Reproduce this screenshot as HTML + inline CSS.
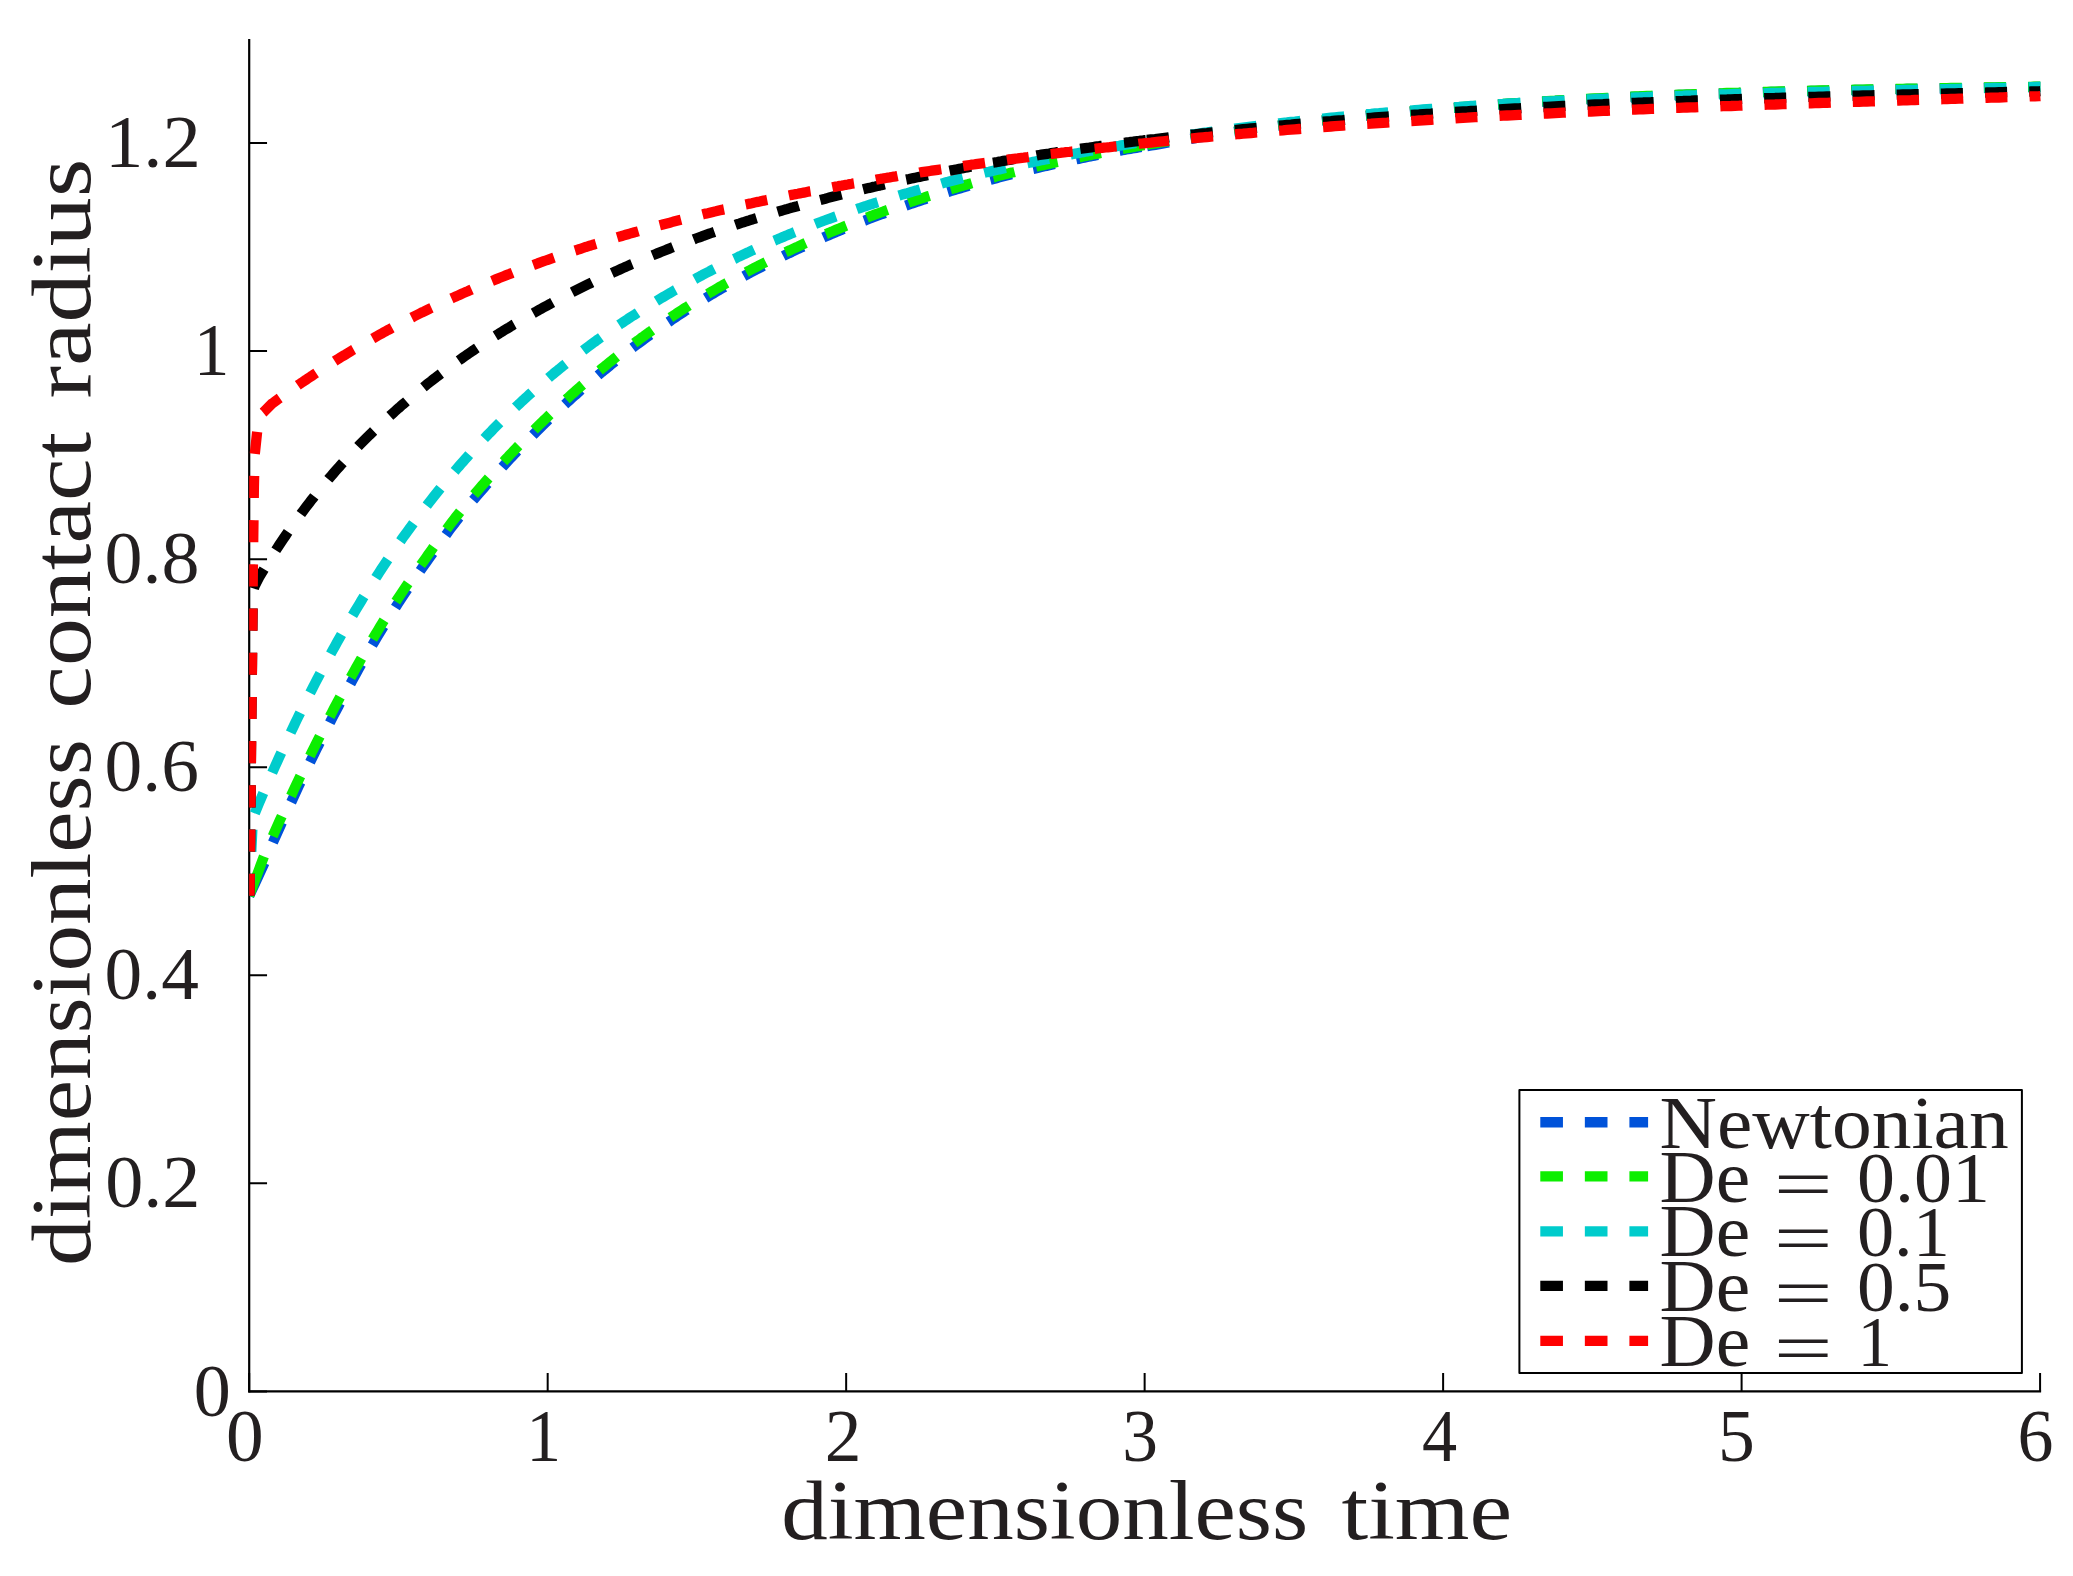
<!DOCTYPE html>
<html lang="en"><head><meta charset="utf-8"><title>dimensionless contact radius vs dimensionless time</title>
<style>
html,body{margin:0;padding:0;background:#fff;}
body{width:2073px;height:1576px;overflow:hidden;}
svg{display:block;}
text{font-family:"Liberation Serif","DejaVu Serif",serif;fill:#231f20;}
.c{fill:none;stroke-width:10.3;stroke-linecap:butt;stroke-linejoin:miter;}
.ax{stroke:#000;stroke-width:2.2;fill:none;stroke-linecap:butt;}
.tk{stroke:#000;stroke-width:2;fill:none;}
</style></head><body>
<svg width="2073" height="1576" viewBox="0 0 2073 1576">
<rect x="0" y="0" width="2073" height="1576" fill="#fff"/>
<defs><clipPath id="plotclip"><rect x="249.2" y="38" width="1792.1" height="1353.5"/></clipPath></defs>
<g id="axes">
<path class="ax" d="M249.20 39 V1392.55"/>
<path class="ax" d="M248.10 1391.45 H2041.10"/>
<path class="tk" d="M249.20 1391.45 V1372.90 M547.68 1391.45 V1372.90 M846.16 1391.45 V1372.90 M1144.64 1391.45 V1372.90 M1443.12 1391.45 V1372.90 M1741.60 1391.45 V1372.90 M2040.08 1391.45 V1372.90 M249.20 1391.45 H267.05 M249.20 1183.37 H267.05 M249.20 975.29 H267.05 M249.20 767.21 H267.05 M249.20 559.13 H267.05 M249.20 351.05 H267.05 M249.20 142.97 H267.05"/>
</g>
<g id="curves" clip-path="url(#plotclip)">
<g id="curve-blue">
<path class="c" stroke="#0052d9" d="M249.2 895.8 L255.4 882.5"/>
<path class="c" stroke="#0052d9" stroke-dasharray="22.10 22.10" stroke-dashoffset="30.06" d="M249.2 895.8 L264.3 863.3 L272.9 842.5 L279.9 826.8 L298.5 786.4 L300.5 782.2 L302.5 778.0 L304.5 773.8 L306.5 769.6 L308.5 765.5 L310.5 761.3 L312.5 757.2 L314.5 753.2 L316.5 749.1 L318.5 745.1 L320.5 741.1 L322.5 737.1 L324.5 733.1 L326.5 729.2 L328.5 725.3 L330.5 721.4 L332.5 717.5 L334.5 713.7 L336.5 709.8 L338.5 706.0 L340.5 702.3 L342.5 698.5 L344.5 694.8 L346.5 691.1 L348.5 687.4 L350.5 683.7 L352.5 680.1 L354.4 676.5 L356.4 672.9 L358.4 669.3 L360.4 665.8 L362.4 662.2 L364.4 658.7 L366.4 655.3 L368.4 651.8 L370.4 648.4 L372.4 645.0 L374.4 641.6 L376.4 638.2 L378.4 634.9 L380.4 631.6 L382.4 628.3 L384.4 625.1 L386.4 621.8 L388.4 618.6 L390.4 615.4 L392.4 612.3 L394.4 609.2 L396.4 606.0 L398.3 603.0 L400.3 599.9 L402.3 596.9 L404.3 593.9 L406.3 590.9 L408.3 588.0 L410.3 585.0 L412.3 582.1 L414.3 579.2 L416.3 576.3 L418.3 573.5 L420.3 570.6 L422.3 567.8 L424.3 565.0 L426.3 562.2 L428.3 559.3 L430.3 556.5 L432.3 553.7 L434.3 550.9 L436.3 548.1 L438.3 545.4 L440.3 542.6 L442.3 539.8 L444.3 537.1 L446.3 534.4 L448.2 531.7 L450.2 529.0 L452.2 526.4 L454.2 523.8 L456.2 521.2 L458.2 518.6 L460.2 516.1 L462.2 513.6 L464.2 511.1 L466.2 508.7 L468.2 506.2 L470.2 503.8 L472.1 501.4 L474.1 499.1 L476.1 496.7 L478.1 494.4 L480.1 492.1 L482.1 489.8 L484.1 487.5 L486.1 485.2 L488.1 482.9 L490.1 480.7 L492.1 478.4 L494.1 476.2 L496.1 474.0 L498.1 471.8 L500.1 469.6 L502.1 467.4 L504.1 465.2 L506.1 463.1 L508.0 460.9 L510.0 458.8 L512.0 456.7 L514.0 454.5 L516.0 452.4 L518.0 450.4 L520.0 448.3 L522.0 446.2 L524.0 444.1 L526.0 442.1 L528.0 440.1 L530.0 438.0 L532.0 436.0 L534.0 434.0 L536.0 432.0 L538.0 430.1 L540.0 428.1 L542.0 426.1 L544.0 424.2 L545.9 422.2 L547.9 420.3 L549.9 418.4 L551.9 416.5 L553.9 414.6 L555.9 412.7 L557.9 410.9 L559.9 409.0 L561.9 407.1 L563.9 405.3 L565.9 403.5 L567.9 401.6 L569.9 399.8 L571.9 398.0 L573.9 396.2 L575.9 394.5 L577.9 392.7 L579.8 390.9 L581.8 389.2 L583.8 387.4 L585.8 385.7 L587.8 384.0 L589.8 382.3 L591.8 380.6 L593.8 378.9 L595.8 377.2 L597.8 375.6 L599.8 373.9 L601.8 372.2 L603.8 370.6 L605.8 369.0 L607.8 367.3 L609.7 365.7 L611.7 364.1 L613.7 362.5 L615.7 360.9 L617.7 359.3 L619.7 357.8 L621.7 356.2 L623.7 354.7 L625.7 353.1 L627.7 351.6 L629.6 350.0 L631.6 348.5 L633.6 347.0 L635.6 345.5 L637.6 344.0 L639.6 342.6 L641.6 341.1 L643.6 339.6 L645.6 338.2 L647.6 336.7 L649.5 335.3 L651.5 333.9 L653.5 332.4 L655.5 331.0 L657.5 329.6 L659.5 328.2 L661.5 326.8 L663.5 325.5 L665.5 324.1 L667.5 322.7 L669.5 321.4 L671.4 320.0 L673.4 318.7 L675.4 317.4 L677.4 316.0 L679.4 314.7 L681.4 313.4 L683.4 312.1 L685.4 310.8 L687.4 309.5 L689.4 308.3 L691.4 307.0 L693.3 305.7 L695.3 304.5 L697.3 303.2 L699.3 302.0 L701.3 300.8 L703.3 299.6 L705.3 298.3 L707.3 297.1 L709.3 295.9 L711.3 294.7 L713.3 293.5 L715.2 292.4 L717.2 291.2 L719.2 290.0 L721.2 288.9 L723.2 287.7 L725.2 286.6 L727.2 285.4 L729.2 284.3 L731.2 283.2 L733.2 282.1 L735.2 280.9 L737.2 279.8 L739.1 278.7 L741.1 277.6 L743.1 276.6 L745.1 275.5 L747.1 274.4 L749.1 273.3 L751.1 272.3 L753.1 271.2 L755.1 270.2 L757.1 269.1 L759.1 268.1 L761.1 267.1 L763.1 266.0 L765.0 265.0 L767.0 264.0 L769.0 263.0 L771.0 262.0 L773.0 261.0 L775.0 260.0 L777.0 259.0 L779.0 258.0 L781.0 257.1 L783.0 256.1 L785.0 255.1 L787.0 254.2 L789.0 253.2 L791.0 252.3 L792.9 251.3 L794.9 250.4 L796.9 249.4 L798.9 248.5 L800.9 247.6 L802.9 246.7 L804.9 245.8 L806.9 244.8 L808.9 243.9 L810.9 243.0 L812.9 242.2 L814.9 241.3 L816.9 240.4 L818.9 239.5 L820.9 238.6 L822.8 237.8 L824.8 236.9 L826.8 236.0 L828.8 235.2 L830.8 234.3 L832.8 233.5 L834.8 232.6 L836.8 231.8 L838.8 231.0 L840.8 230.1 L842.8 229.3 L844.8 228.5 L846.8 227.7 L848.8 226.9 L850.8 226.1 L852.8 225.3 L854.7 224.5 L856.7 223.7 L858.7 222.9 L860.7 222.1 L862.7 221.3 L864.7 220.6 L866.7 219.8 L868.7 219.0 L870.7 218.3 L872.7 217.5 L874.7 216.8 L876.7 216.0 L878.7 215.3 L880.7 214.5 L882.7 213.8 L884.7 213.1 L886.7 212.3 L888.7 211.6 L890.6 210.9 L892.6 210.2 L894.6 209.5 L896.6 208.8 L898.6 208.1 L900.6 207.4 L902.6 206.7 L904.6 206.0 L906.6 205.3 L908.6 204.6 L910.6 203.9 L912.6 203.3 L914.6 202.6 L916.6 201.9 L918.6 201.3 L920.6 200.6 L922.6 199.9 L924.6 199.3 L926.6 198.6 L928.6 198.0 L930.5 197.4 L932.5 196.7 L934.5 196.1 L936.5 195.5 L938.5 194.8 L940.5 194.2 L942.5 193.6 L944.5 193.0 L946.5 192.4 L948.5 191.8 L950.5 191.1 L952.5 190.5 L954.5 190.0 L956.5 189.4 L958.5 188.8 L960.5 188.2 L962.5 187.6 L964.5 187.0 L966.5 186.4 L968.5 185.9 L970.5 185.3 L972.5 184.7 L974.5 184.2 L976.4 183.6 L978.4 183.0 L980.4 182.5 L982.4 181.9 L984.4 181.4 L986.4 180.8 L988.4 180.3 L990.4 179.8 L992.4 179.2 L994.4 178.7 L996.4 178.2 L998.4 177.6 L1000.4 177.1 L1002.4 176.6 L1004.4 176.1 L1006.4 175.6 L1008.4 175.1 L1010.4 174.5 L1012.4 174.0 L1014.4 173.5 L1016.4 173.0 L1018.4 172.5 L1020.4 172.0 L1022.4 171.5 L1024.4 171.1 L1026.4 170.6 L1028.3 170.1 L1030.3 169.6 L1032.3 169.1 L1034.3 168.7 L1036.3 168.2 L1038.3 167.7 L1040.3 167.2 L1042.3 166.8 L1044.3 166.3 L1046.3 165.9 L1048.3 165.4 L1050.3 165.0 L1052.3 164.5 L1054.3 164.0 L1056.3 163.6 L1058.3 163.2 L1060.3 162.7 L1062.3 162.3 L1064.3 161.8 L1066.3 161.4 L1068.3 161.0 L1070.3 160.5 L1072.3 160.1 L1074.3 159.7 L1076.3 159.3 L1078.3 158.9 L1080.3 158.4 L1082.3 158.0 L1084.3 157.6 L1086.3 157.2 L1088.3 156.8 L1090.3 156.4 L1092.3 156.0 L1094.2 155.6 L1096.2 155.2 L1098.2 154.8 L1100.2 154.4 L1102.2 154.0 L1104.2 153.6 L1106.2 153.2 L1108.2 152.8 L1110.2 152.5 L1112.2 152.1 L1114.2 151.7 L1116.2 151.3 L1118.2 150.9 L1120.2 150.6 L1122.2 150.2 L1124.2 149.9 L1126.2 149.5 L1128.2 149.2 L1130.2 148.9 L1132.2 148.5 L1134.2 148.2 L1136.2 147.9 L1138.2 147.5 L1140.2 147.2 L1142.2 146.9 L1144.2 146.5 L1146.2 146.2 L1147.8 145.9"/>
<path class="c" stroke="#0052d9" stroke-dasharray="22.10 22.10" stroke-dashoffset="0.00" d="M1147.0 146.1 L1151.3 145.4 L1155.3 144.8 L1159.3 144.2 L1163.3 143.5 L1167.2 142.8 L1171.2 142.1 L1175.2 141.4 L1179.2 140.8 L1183.2 140.1 L1187.2 139.5 L1191.2 138.8 L1195.2 138.2 L1199.2 137.5 L1203.2 136.9 L1207.2 136.3 L1211.2 135.6 L1215.2 135.0 L1219.1 134.4 L1223.1 133.8 L1227.1 133.2 L1231.1 132.6 L1235.1 132.0 L1239.1 131.4 L1243.1 130.8 L1247.1 130.2 L1251.1 129.7 L1255.1 129.1 L1259.1 128.5 L1263.1 128.0 L1267.1 127.4 L1271.1 126.9 L1275.1 126.3 L1279.1 125.8 L1283.1 125.2 L1287.1 124.7 L1291.0 124.2 L1295.0 123.7 L1299.0 123.2 L1303.0 122.7 L1307.0 122.2 L1311.0 121.7 L1315.0 121.3 L1319.0 120.8 L1323.0 120.4 L1327.0 119.9 L1331.0 119.5 L1335.0 119.0 L1339.0 118.6 L1343.0 118.2 L1347.0 117.7 L1351.0 117.3 L1355.0 116.9 L1359.0 116.5 L1363.0 116.1 L1367.0 115.7 L1371.0 115.3 L1375.0 114.9 L1379.0 114.5 L1383.0 114.1 L1387.0 113.7 L1391.0 113.3 L1395.0 113.0 L1399.0 112.6 L1403.0 112.2 L1407.0 111.9 L1411.0 111.5 L1415.0 111.1 L1419.0 110.8 L1423.0 110.4 L1427.0 110.1 L1431.0 109.8 L1435.0 109.4 L1439.0 109.1 L1443.0 108.8 L1447.0 108.4 L1451.0 108.1 L1455.0 107.8 L1459.0 107.5 L1463.0 107.2 L1467.0 106.9 L1471.0 106.6 L1475.0 106.3 L1479.0 106.0 L1483.0 105.7 L1487.0 105.4 L1491.0 105.1 L1495.0 104.8 L1499.0 104.5 L1503.0 104.3 L1507.0 104.0 L1511.0 103.7 L1515.0 103.4 L1519.0 103.2 L1523.0 102.9 L1527.0 102.7 L1531.0 102.4 L1535.0 102.2 L1539.0 101.9 L1543.0 101.7 L1547.0 101.4 L1551.0 101.2 L1555.0 101.0 L1559.0 100.7 L1563.0 100.5 L1567.0 100.3 L1571.0 100.0 L1575.0 99.8 L1579.0 99.6 L1583.0 99.4 L1587.0 99.2 L1591.0 99.0 L1595.0 98.8 L1599.0 98.6 L1603.0 98.4 L1607.0 98.2 L1611.0 98.0 L1615.0 97.8 L1619.0 97.6 L1623.0 97.4 L1627.0 97.2 L1631.0 97.0 L1635.0 96.8 L1639.0 96.7 L1643.0 96.5 L1647.0 96.3 L1651.0 96.1 L1655.0 96.0 L1659.0 95.8 L1663.0 95.7 L1667.0 95.5 L1671.0 95.3 L1675.0 95.2 L1679.0 95.0 L1683.0 94.9 L1687.0 94.7 L1691.0 94.6 L1695.0 94.4 L1699.0 94.3 L1703.0 94.1 L1707.0 94.0 L1711.0 93.9 L1715.0 93.7 L1719.0 93.6 L1723.0 93.5 L1727.0 93.3 L1731.0 93.2 L1735.0 93.1 L1739.0 93.0 L1743.0 92.8 L1747.0 92.7 L1751.0 92.6 L1755.0 92.5 L1759.0 92.4 L1763.0 92.2 L1767.0 92.1 L1771.0 92.0 L1775.0 91.9 L1779.0 91.8 L1783.0 91.7 L1787.0 91.6 L1791.0 91.5 L1795.0 91.4 L1799.0 91.3 L1803.0 91.2 L1807.0 91.1 L1811.0 91.0 L1815.0 90.9 L1819.0 90.8 L1823.0 90.7 L1827.0 90.6 L1831.0 90.5 L1835.0 90.4 L1839.0 90.4 L1843.0 90.3 L1847.0 90.2 L1851.0 90.1 L1855.0 90.0 L1859.0 89.9 L1863.0 89.9 L1867.0 89.8 L1871.0 89.7 L1875.0 89.6 L1879.0 89.5 L1883.0 89.5 L1887.0 89.4 L1891.0 89.3 L1895.0 89.2 L1899.0 89.2 L1903.0 89.1 L1907.0 89.0 L1911.0 89.0 L1915.0 88.9 L1919.0 88.8 L1923.0 88.8 L1927.0 88.7 L1931.0 88.6 L1935.0 88.6 L1939.0 88.5 L1943.0 88.4 L1947.0 88.4 L1951.0 88.3 L1955.0 88.2 L1959.0 88.2 L1963.0 88.1 L1967.0 88.0 L1971.0 88.0 L1975.0 87.9 L1979.0 87.9 L1983.0 87.8 L1987.0 87.7 L1991.0 87.7 L1995.0 87.6 L1999.0 87.5 L2003.0 87.5 L2007.0 87.4 L2011.0 87.4 L2015.0 87.3 L2019.0 87.2 L2023.0 87.2 L2027.0 87.1 L2031.0 87.1 L2035.0 87.0 L2039.0 86.9 L2040.3 86.9"/>
</g>
<g id="curve-grn">
<path class="c" stroke="#0cee00" d="M249.2 895.8 L256.3 876.7"/>
<path class="c" stroke="#0cee00" stroke-dasharray="22.10 22.10" stroke-dashoffset="24.32" d="M249.2 895.8 L263.9 856.5 L265.9 851.9 L267.9 847.3 L269.9 842.7 L271.9 838.2 L273.9 833.6 L275.9 829.1 L277.9 824.7 L279.9 820.2 L281.9 815.8 L283.9 811.4 L285.9 807.0 L287.9 802.6 L289.9 798.3 L291.9 794.0 L293.9 789.7 L295.9 785.4 L297.9 781.2 L299.9 777.0 L301.9 772.8 L303.9 768.6 L305.9 764.4 L307.9 760.3 L309.9 756.2 L311.9 752.1 L313.9 748.1 L315.9 744.0 L317.9 740.0 L319.9 736.0 L321.9 732.1 L323.9 728.1 L325.9 724.2 L327.9 720.3 L329.9 716.4 L331.9 712.6 L333.9 708.7 L335.9 704.9 L337.9 701.1 L339.9 697.4 L341.9 693.6 L343.9 689.9 L345.9 686.2 L347.9 682.6 L349.9 678.9 L351.9 675.3 L353.9 671.7 L355.9 668.1 L357.9 664.6 L359.9 661.0 L361.9 657.5 L363.9 654.0 L365.9 650.6 L367.9 647.1 L369.9 643.7 L371.9 640.3 L373.9 637.0 L375.9 633.6 L377.9 630.3 L379.9 627.0 L381.9 623.8 L383.9 620.5 L385.9 617.3 L387.9 614.1 L389.9 610.9 L391.9 607.8 L393.9 604.7 L395.9 601.6 L397.9 598.5 L399.9 595.5 L401.9 592.5 L403.9 589.5 L405.9 586.5 L407.9 583.6 L409.9 580.7 L411.9 577.8 L413.9 574.9 L415.9 572.0 L417.9 569.2 L419.9 566.3 L421.9 563.5 L423.9 560.7 L425.9 557.9 L427.9 555.0 L429.9 552.2 L431.9 549.4 L433.9 546.6 L435.9 543.9 L437.9 541.1 L439.9 538.3 L441.9 535.6 L443.9 532.9 L445.9 530.2 L447.9 527.5 L449.9 524.8 L451.9 522.2 L453.9 519.6 L455.9 517.0 L457.9 514.5 L459.9 512.0 L461.9 509.5 L463.9 507.0 L465.9 504.6 L467.9 502.1 L469.9 499.8 L471.9 497.4 L473.9 495.0 L475.9 492.7 L477.9 490.4 L479.9 488.0 L481.9 485.7 L483.9 483.5 L485.9 481.2 L487.9 478.9 L489.9 476.7 L491.9 474.4 L493.9 472.2 L495.9 470.0 L497.9 467.8 L499.9 465.6 L501.9 463.4 L503.9 461.3 L505.9 459.1 L507.9 457.0 L509.9 454.8 L511.9 452.7 L513.9 450.6 L515.9 448.5 L517.9 446.4 L519.9 444.4 L521.9 442.3 L523.9 440.2 L525.9 438.2 L527.9 436.2 L529.9 434.2 L531.9 432.1 L533.9 430.2 L535.9 428.2 L537.9 426.2 L539.9 424.2 L541.9 422.3 L543.9 420.3 L545.9 418.4 L547.9 416.5 L549.9 414.6 L551.9 412.7 L553.9 410.8 L555.9 408.9 L557.9 407.0 L559.9 405.2 L561.9 403.3 L563.9 401.5 L565.9 399.7 L567.9 397.9 L569.9 396.0 L571.9 394.2 L573.9 392.5 L575.9 390.7 L577.9 388.9 L579.9 387.2 L581.9 385.4 L583.9 383.7 L585.9 382.0 L587.9 380.2 L589.9 378.5 L591.9 376.8 L593.9 375.2 L595.9 373.5 L597.9 371.8 L599.9 370.2 L601.9 368.5 L603.9 366.9 L605.9 365.3 L607.9 363.6 L609.9 362.0 L611.9 360.4 L613.9 358.8 L615.9 357.3 L617.9 355.7 L619.9 354.1 L621.9 352.6 L623.9 351.0 L625.9 349.5 L627.9 348.0 L629.9 346.4 L631.9 344.9 L633.9 343.4 L635.9 341.9 L637.9 340.5 L639.9 339.0 L641.9 337.5 L643.9 336.1 L645.9 334.6 L647.9 333.2 L649.9 331.8 L651.9 330.3 L653.9 328.9 L655.9 327.5 L657.9 326.1 L659.9 324.7 L661.9 323.4 L663.9 322.0 L665.9 320.6 L667.9 319.3 L669.9 317.9 L671.9 316.6 L673.9 315.3 L675.9 314.0 L677.9 312.6 L679.9 311.3 L681.9 310.0 L683.9 308.7 L685.9 307.5 L687.9 306.2 L689.9 304.9 L691.9 303.7 L693.9 302.4 L695.9 301.2 L697.9 299.9 L699.9 298.7 L701.9 297.5 L703.9 296.3 L705.9 295.1 L707.9 293.9 L709.9 292.7 L711.9 291.5 L713.9 290.3 L715.9 289.1 L717.9 288.0 L719.9 286.8 L721.9 285.7 L723.9 284.5 L725.9 283.4 L727.9 282.3 L729.9 281.1 L731.9 280.0 L733.9 278.9 L735.9 277.8 L737.9 276.7 L739.9 275.6 L741.9 274.5 L743.9 273.4 L745.9 272.4 L747.9 271.3 L749.9 270.2 L751.9 269.2 L753.9 268.1 L755.9 267.1 L757.9 266.1 L759.9 265.0 L761.9 264.0 L763.9 263.0 L765.9 262.0 L767.9 261.0 L769.9 260.0 L771.9 259.0 L773.9 258.0 L775.9 257.0 L777.9 256.0 L779.9 255.1 L781.9 254.1 L783.9 253.1 L785.9 252.2 L787.9 251.2 L789.9 250.3 L791.9 249.3 L793.9 248.4 L795.9 247.5 L797.9 246.6 L799.9 245.6 L801.9 244.7 L803.9 243.8 L805.9 242.9 L807.9 242.0 L809.9 241.1 L811.9 240.2 L813.9 239.3 L815.9 238.5 L817.9 237.6 L819.9 236.7 L821.9 235.8 L823.9 235.0 L825.9 234.1 L827.9 233.3 L829.9 232.4 L831.9 231.6 L833.9 230.7 L835.9 229.9 L837.9 229.1 L839.9 228.3 L841.9 227.4 L843.9 226.6 L845.9 225.8 L847.9 225.0 L849.9 224.2 L851.9 223.4 L853.9 222.6 L855.9 221.8 L857.9 221.1 L859.9 220.3 L861.9 219.5 L863.9 218.7 L865.9 218.0 L867.9 217.2 L869.9 216.4 L871.9 215.7 L873.9 214.9 L875.9 214.2 L877.9 213.5 L879.9 212.7 L881.9 212.0 L883.9 211.3 L885.9 210.5 L887.9 209.8 L889.9 209.1 L891.9 208.4 L893.9 207.7 L895.9 207.0 L897.9 206.3 L899.9 205.6 L901.9 204.9 L903.9 204.2 L905.9 203.5 L907.9 202.9 L909.9 202.2 L911.9 201.5 L913.9 200.9 L915.9 200.2 L917.9 199.5 L919.9 198.9 L921.9 198.2 L923.9 197.6 L925.9 196.9 L927.9 196.3 L929.9 195.7 L931.9 195.0 L933.9 194.4 L935.9 193.8 L937.9 193.2 L939.9 192.5 L941.9 191.9 L943.9 191.3 L945.9 190.7 L947.9 190.1 L949.9 189.5 L951.9 188.9 L953.9 188.3 L955.9 187.7 L957.9 187.1 L959.9 186.6 L961.9 186.0 L963.9 185.4 L965.9 184.8 L967.9 184.3 L969.9 183.7 L971.9 183.1 L973.9 182.6 L975.9 182.0 L977.9 181.5 L979.9 180.9 L981.9 180.4 L983.9 179.8 L985.9 179.3 L987.9 178.7 L989.9 178.2 L991.9 177.7 L993.9 177.2 L995.9 176.6 L997.9 176.1 L999.9 175.6 L1001.9 175.1 L1003.9 174.6 L1005.9 174.1 L1007.9 173.6 L1009.9 173.0 L1011.9 172.5 L1013.9 172.1 L1015.9 171.6 L1017.9 171.1 L1019.9 170.6 L1021.9 170.1 L1023.9 169.6 L1025.9 169.1 L1027.9 168.6 L1029.9 168.2 L1031.9 167.7 L1033.9 167.2 L1035.9 166.8 L1037.9 166.3 L1039.9 165.8 L1041.9 165.4 L1043.9 164.9 L1045.9 164.5 L1047.9 164.0 L1049.9 163.6 L1051.9 163.1 L1053.9 162.7 L1055.9 162.2 L1057.9 161.8 L1059.9 161.4 L1061.9 160.9 L1063.9 160.5 L1065.9 160.1 L1067.9 159.7 L1069.9 159.2 L1071.9 158.8 L1073.9 158.4 L1075.9 158.0 L1077.9 157.6 L1079.9 157.2 L1081.9 156.7 L1083.9 156.3 L1085.9 155.9 L1087.9 155.5 L1089.9 155.1 L1091.9 154.7 L1093.9 154.3 L1095.9 153.9 L1097.9 153.6 L1099.9 153.2 L1101.9 152.8 L1103.9 152.4 L1105.9 152.0 L1107.9 151.6 L1109.9 151.3 L1111.9 150.9 L1113.9 150.5 L1115.9 150.1 L1117.9 149.8 L1119.9 149.4 L1121.9 149.0 L1123.9 148.7 L1125.9 148.3 L1127.9 147.9 L1129.9 147.6 L1131.9 147.2 L1133.9 146.9 L1135.9 146.5 L1137.9 146.2 L1139.9 145.8 L1141.9 145.5 L1143.9 145.1 L1145.9 144.8 L1147.8 144.5"/>
<path class="c" stroke="#0cee00" stroke-dasharray="22.10 22.10" stroke-dashoffset="0.00" d="M1147.0 144.6 L1151.0 143.9 L1155.0 143.3 L1159.0 142.6 L1163.0 141.9 L1167.0 141.3 L1171.0 140.6 L1175.0 140.0 L1179.0 139.4 L1183.0 138.7 L1187.0 138.1 L1191.0 137.5 L1195.0 136.9 L1199.0 136.3 L1203.0 135.7 L1207.0 135.1 L1211.0 134.5 L1215.0 133.9 L1219.0 133.4 L1223.0 132.8 L1227.0 132.2 L1231.0 131.6 L1235.0 131.1 L1239.0 130.5 L1243.0 130.0 L1247.0 129.5 L1251.0 128.9 L1255.0 128.4 L1259.0 127.9 L1263.0 127.3 L1267.0 126.8 L1271.0 126.3 L1275.0 125.8 L1279.0 125.3 L1283.0 124.8 L1287.0 124.3 L1291.0 123.8 L1295.0 123.3 L1299.0 122.8 L1303.0 122.4 L1307.0 121.9 L1311.0 121.4 L1315.0 121.0 L1319.0 120.5 L1323.0 120.1 L1327.0 119.6 L1331.0 119.2 L1335.0 118.7 L1339.0 118.3 L1343.0 117.9 L1347.0 117.4 L1351.0 117.0 L1355.0 116.6 L1359.0 116.2 L1363.0 115.8 L1367.0 115.4 L1371.0 115.0 L1375.0 114.6 L1379.0 114.2 L1383.0 113.8 L1387.0 113.4 L1391.0 113.0 L1395.0 112.7 L1399.0 112.3 L1403.0 111.9 L1407.0 111.6 L1411.0 111.2 L1415.0 110.8 L1419.0 110.5 L1423.0 110.1 L1427.0 109.8 L1431.0 109.5 L1435.0 109.1 L1439.0 108.8 L1443.0 108.5 L1447.0 108.1 L1451.0 107.8 L1455.0 107.5 L1459.0 107.2 L1463.0 106.9 L1467.0 106.6 L1471.0 106.3 L1475.0 106.0 L1479.0 105.7 L1483.0 105.4 L1487.0 105.1 L1491.0 104.8 L1495.0 104.5 L1499.0 104.2 L1503.0 104.0 L1507.0 103.7 L1511.0 103.4 L1515.0 103.1 L1519.0 102.9 L1523.0 102.6 L1527.0 102.4 L1531.0 102.1 L1535.0 101.9 L1539.0 101.6 L1543.0 101.4 L1547.0 101.1 L1551.0 100.9 L1555.0 100.7 L1559.0 100.4 L1563.0 100.2 L1567.0 100.0 L1571.0 99.7 L1575.0 99.5 L1579.0 99.3 L1583.0 99.1 L1587.0 98.9 L1591.0 98.7 L1595.0 98.5 L1599.0 98.3 L1603.0 98.1 L1607.0 97.9 L1611.0 97.7 L1615.0 97.5 L1619.0 97.3 L1623.0 97.1 L1627.0 96.9 L1631.0 96.7 L1635.0 96.5 L1639.0 96.4 L1643.0 96.2 L1647.0 96.0 L1651.0 95.8 L1655.0 95.7 L1659.0 95.5 L1663.0 95.4 L1667.0 95.2 L1671.0 95.0 L1675.0 94.9 L1679.0 94.7 L1683.0 94.6 L1687.0 94.4 L1691.0 94.3 L1695.0 94.1 L1699.0 94.0 L1703.0 93.8 L1707.0 93.7 L1711.0 93.6 L1715.0 93.4 L1719.0 93.3 L1723.0 93.2 L1727.0 93.0 L1731.0 92.9 L1735.0 92.8 L1739.0 92.7 L1743.0 92.5 L1747.0 92.4 L1751.0 92.3 L1755.0 92.2 L1759.0 92.1 L1763.0 91.9 L1767.0 91.8 L1771.0 91.7 L1775.0 91.6 L1779.0 91.5 L1783.0 91.4 L1787.0 91.3 L1791.0 91.2 L1795.0 91.1 L1799.0 91.0 L1803.0 90.9 L1807.0 90.8 L1811.0 90.7 L1815.0 90.6 L1819.0 90.5 L1823.0 90.4 L1827.0 90.3 L1831.0 90.2 L1835.0 90.1 L1839.0 90.1 L1843.0 90.0 L1847.0 89.9 L1851.0 89.8 L1855.0 89.7 L1859.0 89.6 L1863.0 89.6 L1867.0 89.5 L1871.0 89.4 L1875.0 89.3 L1879.0 89.2 L1883.0 89.2 L1887.0 89.1 L1891.0 89.0 L1895.0 88.9 L1899.0 88.9 L1903.0 88.8 L1907.0 88.7 L1911.0 88.7 L1915.0 88.6 L1919.0 88.5 L1923.0 88.5 L1927.0 88.4 L1931.0 88.3 L1935.0 88.3 L1939.0 88.2 L1943.0 88.1 L1947.0 88.1 L1951.0 88.0 L1955.0 87.9 L1959.0 87.9 L1963.0 87.8 L1967.0 87.7 L1971.0 87.7 L1975.0 87.6 L1979.0 87.6 L1983.0 87.5 L1987.0 87.4 L1991.0 87.4 L1995.0 87.3 L1999.0 87.2 L2003.0 87.2 L2007.0 87.1 L2011.0 87.1 L2015.0 87.0 L2019.0 86.9 L2023.0 86.9 L2027.0 86.8 L2031.0 86.8 L2035.0 86.7 L2039.0 86.6 L2040.3 86.6"/>
</g>
<g id="curve-cyn">
<path class="c" stroke="#00cccc" stroke-dasharray="22.10 22.10" stroke-dashoffset="0.00" d="M249.2 895.8 L252.9 818.0"/>
<path class="c" stroke="#00cccc" stroke-dasharray="22.10 22.10" stroke-dashoffset="40.31" d="M253.3 817.0 L254.7 813.7 L259.2 802.6 L261.2 797.9 L263.2 793.3 L265.2 788.7 L267.2 784.1 L269.2 779.5 L271.2 775.0 L273.2 770.5 L275.2 766.0 L277.2 761.6 L279.2 757.2 L281.2 752.8 L283.2 748.5 L285.2 744.2 L287.2 739.9 L289.2 735.6 L291.2 731.4 L293.2 727.2 L295.2 723.1 L297.2 718.9 L299.2 714.8 L301.2 710.7 L303.2 706.7 L305.2 702.7 L307.2 698.7 L309.2 694.7 L311.2 690.8 L313.2 686.9 L315.2 683.0 L317.2 679.1 L319.2 675.3 L321.2 671.5 L323.2 667.7 L325.2 664.0 L327.2 660.3 L329.2 656.6 L331.2 652.9 L333.2 649.3 L335.2 645.7 L337.2 642.1 L339.2 638.5 L341.2 635.0 L343.2 631.5 L345.2 628.0 L347.2 624.5 L349.2 621.1 L351.2 617.7 L353.2 614.3 L355.2 610.9 L357.2 607.6 L359.2 604.3 L361.2 601.0 L363.2 597.7 L365.2 594.5 L367.2 591.3 L369.2 588.1 L371.2 584.9 L373.2 581.8 L375.2 578.7 L377.2 575.6 L379.2 572.5 L381.2 569.4 L383.2 566.4 L385.2 563.4 L387.2 560.4 L389.2 557.4 L391.2 554.5 L393.2 551.5 L395.2 548.6 L397.2 545.8 L399.2 542.9 L401.2 540.1 L403.2 537.2 L405.2 534.4 L407.2 531.7 L409.2 528.9 L411.2 526.2 L413.2 523.4 L415.2 520.7 L417.2 518.1 L419.2 515.4 L421.2 512.8 L423.2 510.1 L425.2 507.5 L427.2 505.0 L429.2 502.4 L431.2 499.8 L433.2 497.3 L435.2 494.8 L437.2 492.3 L439.2 489.8 L441.2 487.4 L443.2 484.9 L445.2 482.5 L447.2 480.1 L449.2 477.7 L451.2 475.4 L453.2 473.0 L455.2 470.7 L457.2 468.3 L459.2 466.0 L461.2 463.7 L463.2 461.5 L465.2 459.2 L467.2 457.0 L469.2 454.7 L471.2 452.5 L473.2 450.3 L475.2 448.2 L477.2 446.0 L479.2 443.8 L481.2 441.7 L483.2 439.6 L485.2 437.5 L487.2 435.4 L489.2 433.3 L491.2 431.3 L493.2 429.2 L495.2 427.2 L497.2 425.2 L499.2 423.2 L501.2 421.2 L503.2 419.2 L505.2 417.2 L507.2 415.3 L509.2 413.3 L511.2 411.4 L513.2 409.5 L515.2 407.6 L517.2 405.7 L519.2 403.9 L521.2 402.0 L523.2 400.2 L525.2 398.3 L527.2 396.5 L529.2 394.7 L531.2 392.9 L533.2 391.1 L535.2 389.4 L537.2 387.6 L539.2 385.9 L541.2 384.1 L543.2 382.4 L545.2 380.7 L547.2 379.0 L549.2 377.3 L551.2 375.6 L553.2 374.0 L555.2 372.3 L557.2 370.7 L559.2 369.1 L561.2 367.4 L563.2 365.8 L565.2 364.2 L567.2 362.6 L569.2 361.1 L571.2 359.5 L573.2 357.9 L575.2 356.4 L577.2 354.9 L579.2 353.3 L581.2 351.8 L583.2 350.3 L585.2 348.8 L587.2 347.3 L589.2 345.9 L591.2 344.4 L593.2 342.9 L595.2 341.5 L597.2 340.0 L599.2 338.6 L601.2 337.2 L603.2 335.8 L605.2 334.4 L607.2 333.0 L609.2 331.6 L611.2 330.2 L613.2 328.8 L615.2 327.5 L617.2 326.1 L619.2 324.8 L621.2 323.4 L623.2 322.1 L625.2 320.8 L627.2 319.5 L629.2 318.1 L631.2 316.8 L633.2 315.5 L635.2 314.3 L637.2 313.0 L639.2 311.7 L641.2 310.4 L643.2 309.2 L645.2 307.9 L647.2 306.7 L649.2 305.5 L651.2 304.2 L653.2 303.0 L655.2 301.8 L657.2 300.6 L659.2 299.4 L661.2 298.2 L663.2 297.0 L665.2 295.8 L667.2 294.6 L669.2 293.5 L671.2 292.3 L673.2 291.1 L675.2 290.0 L677.2 288.9 L679.2 287.7 L681.2 286.6 L683.2 285.5 L685.2 284.4 L687.2 283.2 L689.2 282.1 L691.2 281.0 L693.2 280.0 L695.2 278.9 L697.2 277.8 L699.2 276.7 L701.2 275.7 L703.2 274.6 L705.2 273.5 L707.2 272.5 L709.2 271.5 L711.2 270.4 L713.2 269.4 L715.2 268.4 L717.2 267.3 L719.2 266.3 L721.2 265.3 L723.2 264.3 L725.2 263.3 L727.2 262.3 L729.2 261.4 L731.2 260.4 L733.2 259.4 L735.2 258.5 L737.2 257.5 L739.2 256.5 L741.2 255.6 L743.2 254.6 L745.2 253.7 L747.2 252.8 L749.2 251.9 L751.2 250.9 L753.2 250.0 L755.2 249.1 L757.2 248.2 L759.2 247.3 L761.2 246.4 L763.2 245.5 L765.2 244.6 L767.2 243.7 L769.2 242.9 L771.2 242.0 L773.2 241.1 L775.2 240.3 L777.2 239.4 L779.2 238.6 L781.2 237.7 L783.2 236.9 L785.2 236.0 L787.2 235.2 L789.2 234.4 L791.2 233.6 L793.2 232.7 L795.2 231.9 L797.2 231.1 L799.2 230.3 L801.2 229.5 L803.2 228.7 L805.2 227.9 L807.2 227.2 L809.2 226.4 L811.2 225.6 L813.2 224.8 L815.2 224.1 L817.2 223.3 L819.2 222.5 L821.2 221.8 L823.2 221.0 L825.2 220.3 L827.2 219.5 L829.2 218.8 L831.2 218.1 L833.2 217.4 L835.2 216.6 L837.2 215.9 L839.2 215.2 L841.2 214.5 L843.2 213.8 L845.2 213.1 L847.2 212.4 L849.2 211.7 L851.2 211.0 L853.2 210.3 L855.2 209.6 L857.2 208.9 L859.2 208.3 L861.2 207.6 L863.2 206.9 L865.2 206.3 L867.2 205.6 L869.2 204.9 L871.2 204.3 L873.2 203.6 L875.2 203.0 L877.2 202.3 L879.2 201.7 L881.2 201.1 L883.2 200.4 L885.2 199.8 L887.2 199.2 L889.2 198.6 L891.2 198.0 L893.2 197.3 L895.2 196.7 L897.2 196.1 L899.2 195.5 L901.2 194.9 L903.2 194.3 L905.2 193.7 L907.2 193.2 L909.2 192.6 L911.2 192.0 L913.2 191.4 L915.2 190.8 L917.2 190.3 L919.2 189.7 L921.2 189.1 L923.2 188.6 L925.2 188.0 L927.2 187.5 L929.2 186.9 L931.2 186.4 L933.2 185.8 L935.2 185.3 L937.2 184.7 L939.2 184.2 L941.2 183.7 L943.2 183.1 L945.2 182.6 L947.2 182.1 L949.2 181.5 L951.2 181.0 L953.2 180.5 L955.2 180.0 L957.2 179.5 L959.2 179.0 L961.2 178.5 L963.2 178.0 L965.2 177.5 L967.2 177.0 L969.2 176.5 L971.2 176.0 L973.2 175.5 L975.2 175.0 L977.2 174.5 L979.2 174.0 L981.2 173.6 L983.2 173.1 L985.2 172.6 L987.2 172.1 L989.2 171.7 L991.2 171.2 L993.2 170.7 L995.2 170.3 L997.2 169.8 L999.2 169.4 L1001.2 168.9 L1003.2 168.5 L1005.2 168.0 L1007.2 167.6 L1009.2 167.1 L1011.2 166.7 L1013.2 166.2 L1015.2 165.8 L1017.2 165.3 L1019.2 164.9 L1021.2 164.5 L1023.2 164.1 L1025.2 163.6 L1027.2 163.2 L1029.2 162.8 L1031.2 162.4 L1033.2 161.9 L1035.2 161.5 L1037.2 161.1 L1039.2 160.7 L1041.2 160.3 L1043.2 159.9 L1045.2 159.5 L1047.2 159.1 L1049.2 158.7 L1051.2 158.3 L1053.2 157.9 L1055.2 157.5 L1057.2 157.1 L1059.2 156.7 L1061.2 156.3 L1063.2 155.9 L1065.2 155.5 L1067.2 155.1 L1069.2 154.7 L1071.2 154.4 L1073.2 154.0 L1075.2 153.6 L1077.2 153.2 L1079.2 152.9 L1081.2 152.5 L1083.2 152.1 L1085.2 151.7 L1087.2 151.4 L1089.2 151.0 L1091.2 150.7 L1093.2 150.3 L1095.2 149.9 L1097.2 149.6 L1099.2 149.2 L1101.2 148.9 L1103.2 148.5 L1105.2 148.2 L1107.2 147.8 L1109.2 147.5 L1111.2 147.1 L1113.2 146.8 L1115.2 146.4 L1117.2 146.1 L1119.2 145.8 L1121.2 145.4 L1123.2 145.1 L1125.2 144.8 L1127.2 144.4 L1129.2 144.1 L1131.2 143.8 L1133.2 143.4 L1135.2 143.1 L1137.2 142.8 L1139.2 142.5 L1141.2 142.2 L1143.2 141.8 L1145.2 141.5 L1147.8 141.1"/>
<path class="c" stroke="#00cccc" stroke-dasharray="22.10 22.10" stroke-dashoffset="0.00" d="M1147.0 141.2 L1151.0 140.6 L1155.0 140.0 L1159.0 139.4 L1163.0 138.7 L1167.0 138.1 L1171.0 137.5 L1175.0 136.9 L1179.0 136.4 L1183.0 135.8 L1187.0 135.2 L1191.0 134.6 L1195.0 134.0 L1199.0 133.5 L1203.0 132.9 L1207.0 132.4 L1211.0 131.8 L1215.0 131.3 L1219.0 130.7 L1223.0 130.2 L1227.0 129.7 L1231.0 129.2 L1235.0 128.6 L1239.0 128.1 L1243.0 127.6 L1247.0 127.1 L1251.0 126.6 L1255.0 126.1 L1259.0 125.7 L1263.0 125.2 L1267.0 124.7 L1271.0 124.2 L1275.0 123.8 L1279.0 123.3 L1283.0 122.8 L1287.0 122.4 L1291.0 121.9 L1295.0 121.5 L1299.0 121.0 L1303.0 120.6 L1307.0 120.2 L1311.0 119.7 L1315.0 119.3 L1319.0 118.9 L1323.0 118.5 L1327.0 118.1 L1331.0 117.7 L1335.0 117.3 L1339.0 116.9 L1343.0 116.5 L1347.0 116.1 L1351.0 115.7 L1355.0 115.3 L1359.0 115.0 L1363.0 114.6 L1367.0 114.2 L1371.0 113.9 L1375.0 113.5 L1379.0 113.2 L1383.0 112.8 L1387.0 112.5 L1391.0 112.1 L1395.0 111.8 L1399.0 111.4 L1403.0 111.1 L1407.0 110.8 L1411.0 110.5 L1415.0 110.1 L1419.0 109.8 L1423.0 109.5 L1427.0 109.2 L1431.0 108.9 L1435.0 108.6 L1439.0 108.3 L1443.0 108.0 L1447.0 107.7 L1451.0 107.4 L1455.0 107.1 L1459.0 106.9 L1463.0 106.6 L1467.0 106.3 L1471.0 106.0 L1475.0 105.8 L1479.0 105.5 L1483.0 105.2 L1487.0 105.0 L1491.0 104.7 L1495.0 104.5 L1499.0 104.2 L1503.0 104.0 L1507.0 103.7 L1511.0 103.5 L1515.0 103.3 L1519.0 103.0 L1523.0 102.8 L1527.0 102.6 L1531.0 102.4 L1535.0 102.1 L1539.0 101.9 L1543.0 101.7 L1547.0 101.5 L1551.0 101.3 L1555.0 101.1 L1559.0 100.9 L1563.0 100.7 L1567.0 100.5 L1571.0 100.3 L1575.0 100.1 L1579.0 99.9 L1583.0 99.7 L1587.0 99.5 L1591.0 99.3 L1595.0 99.1 L1599.0 98.9 L1603.0 98.8 L1607.0 98.6 L1611.0 98.4 L1615.0 98.2 L1619.0 98.1 L1623.0 97.9 L1627.0 97.7 L1631.0 97.6 L1635.0 97.4 L1639.0 97.3 L1643.0 97.1 L1647.0 97.0 L1651.0 96.8 L1655.0 96.7 L1659.0 96.5 L1663.0 96.4 L1667.0 96.2 L1671.0 96.1 L1675.0 95.9 L1679.0 95.8 L1683.0 95.7 L1687.0 95.5 L1691.0 95.4 L1695.0 95.3 L1699.0 95.1 L1703.0 95.0 L1707.0 94.9 L1711.0 94.8 L1715.0 94.6 L1719.0 94.5 L1723.0 94.4 L1727.0 94.3 L1731.0 94.1 L1735.0 94.0 L1739.0 93.9 L1743.0 93.8 L1747.0 93.7 L1751.0 93.6 L1755.0 93.5 L1759.0 93.4 L1763.0 93.3 L1767.0 93.1 L1771.0 93.0 L1775.0 92.9 L1779.0 92.8 L1783.0 92.7 L1787.0 92.6 L1791.0 92.5 L1795.0 92.4 L1799.0 92.3 L1803.0 92.2 L1807.0 92.1 L1811.0 92.0 L1815.0 92.0 L1819.0 91.9 L1823.0 91.8 L1827.0 91.7 L1831.0 91.6 L1835.0 91.5 L1839.0 91.4 L1843.0 91.3 L1847.0 91.2 L1851.0 91.1 L1855.0 91.0 L1859.0 91.0 L1863.0 90.9 L1867.0 90.8 L1871.0 90.7 L1875.0 90.6 L1879.0 90.5 L1883.0 90.4 L1887.0 90.3 L1891.0 90.3 L1895.0 90.2 L1899.0 90.1 L1903.0 90.0 L1907.0 89.9 L1911.0 89.8 L1915.0 89.8 L1919.0 89.7 L1923.0 89.6 L1927.0 89.5 L1931.0 89.4 L1935.0 89.3 L1939.0 89.3 L1943.0 89.2 L1947.0 89.1 L1951.0 89.0 L1955.0 88.9 L1959.0 88.8 L1963.0 88.7 L1967.0 88.7 L1971.0 88.6 L1975.0 88.5 L1979.0 88.4 L1983.0 88.3 L1987.0 88.2 L1991.0 88.1 L1995.0 88.0 L1999.0 88.0 L2003.0 87.9 L2007.0 87.8 L2011.0 87.7 L2015.0 87.6 L2019.0 87.5 L2023.0 87.4 L2027.0 87.3 L2031.0 87.2 L2035.0 87.1 L2039.0 87.0 L2040.3 87.0"/>
</g>
<g id="curve-blk">
<path class="c" stroke="#000000" stroke-dasharray="22.10 22.10" stroke-dashoffset="0.00" d="M249.5 895.8 L250.2 840.0 L251.0 752.0 L252.0 663.0 L252.8 592.0"/>
<path class="c" stroke="#000000" stroke-dasharray="22.10 22.10" stroke-dashoffset="40.63" d="M252.8 592.0 L254.6 586.2 L259.3 577.0 L261.3 573.6 L263.3 570.3 L265.3 567.0 L267.3 563.7 L269.3 560.5 L271.3 557.3 L273.3 554.2 L275.3 551.1 L277.3 548.0 L279.3 544.9 L281.3 541.9 L283.3 538.9 L285.3 536.0 L287.3 533.0 L289.3 530.1 L291.3 527.3 L293.3 524.4 L295.3 521.6 L297.3 518.9 L299.3 516.1 L301.3 513.4 L303.3 510.7 L305.3 508.0 L307.3 505.4 L309.3 502.8 L311.3 500.2 L313.3 497.7 L315.3 495.1 L317.3 492.6 L319.3 490.2 L321.3 487.7 L323.3 485.3 L325.3 482.9 L327.3 480.5 L329.3 478.1 L331.3 475.8 L333.3 473.5 L335.3 471.2 L337.3 468.9 L339.3 466.7 L341.3 464.4 L343.3 462.2 L345.3 460.0 L347.3 457.9 L349.3 455.7 L351.3 453.6 L353.3 451.5 L355.3 449.4 L357.3 447.3 L359.3 445.2 L361.3 443.2 L363.3 441.2 L365.3 439.2 L367.3 437.2 L369.3 435.2 L371.3 433.3 L373.3 431.3 L375.3 429.4 L377.3 427.5 L379.3 425.6 L381.3 423.7 L383.3 421.9 L385.3 420.0 L387.3 418.2 L389.3 416.4 L391.3 414.6 L393.3 412.8 L395.3 411.0 L397.3 409.2 L399.3 407.5 L401.3 405.7 L403.3 404.0 L405.3 402.3 L407.3 400.6 L409.3 398.9 L411.3 397.2 L413.3 395.5 L415.3 393.9 L417.3 392.2 L419.3 390.6 L421.3 388.9 L423.3 387.3 L425.3 385.7 L427.3 384.1 L429.3 382.5 L431.3 381.0 L433.3 379.4 L435.3 377.9 L437.3 376.3 L439.3 374.8 L441.3 373.3 L443.3 371.8 L445.3 370.3 L447.3 368.8 L449.3 367.3 L451.3 365.9 L453.3 364.4 L455.3 362.9 L457.3 361.5 L459.3 360.1 L461.3 358.7 L463.3 357.3 L465.3 355.9 L467.3 354.5 L469.3 353.1 L471.3 351.7 L473.3 350.4 L475.3 349.0 L477.3 347.7 L479.3 346.3 L481.3 345.0 L483.3 343.7 L485.3 342.4 L487.3 341.1 L489.3 339.8 L491.3 338.5 L493.3 337.2 L495.3 335.9 L497.3 334.7 L499.3 333.4 L501.3 332.2 L503.3 330.9 L505.3 329.7 L507.3 328.5 L509.3 327.3 L511.3 326.0 L513.3 324.8 L515.3 323.7 L517.3 322.5 L519.3 321.3 L521.3 320.1 L523.3 318.9 L525.3 317.8 L527.3 316.6 L529.3 315.5 L531.3 314.3 L533.3 313.2 L535.3 312.1 L537.3 310.9 L539.3 309.8 L541.3 308.7 L543.3 307.6 L545.3 306.5 L547.3 305.4 L549.3 304.3 L551.3 303.3 L553.3 302.2 L555.3 301.1 L557.3 300.0 L559.3 299.0 L561.3 297.9 L563.3 296.9 L565.3 295.8 L567.3 294.8 L569.3 293.8 L571.3 292.7 L573.3 291.7 L575.3 290.7 L577.3 289.7 L579.3 288.7 L581.3 287.7 L583.3 286.7 L585.3 285.7 L587.3 284.7 L589.3 283.7 L591.3 282.8 L593.3 281.8 L595.3 280.8 L597.3 279.9 L599.3 278.9 L601.3 278.0 L603.3 277.0 L605.3 276.1 L607.3 275.1 L609.3 274.2 L611.3 273.3 L613.3 272.4 L615.3 271.5 L617.3 270.6 L619.3 269.7 L621.3 268.8 L623.3 267.9 L625.3 267.0 L627.3 266.1 L629.3 265.2 L631.3 264.3 L633.3 263.5 L635.3 262.6 L637.3 261.7 L639.3 260.9 L641.3 260.0 L643.3 259.2 L645.3 258.3 L647.3 257.5 L649.3 256.7 L651.3 255.8 L653.3 255.0 L655.3 254.2 L657.3 253.4 L659.3 252.6 L661.3 251.8 L663.3 251.0 L665.3 250.2 L667.3 249.4 L669.3 248.6 L671.3 247.8 L673.3 247.0 L675.3 246.3 L677.3 245.5 L679.3 244.7 L681.3 244.0 L683.3 243.2 L685.3 242.4 L687.3 241.7 L689.3 240.9 L691.3 240.2 L693.3 239.5 L695.3 238.7 L697.3 238.0 L699.3 237.3 L701.3 236.6 L703.3 235.8 L705.3 235.1 L707.3 234.4 L709.3 233.7 L711.3 233.0 L713.3 232.3 L715.3 231.6 L717.3 230.9 L719.3 230.2 L721.3 229.6 L723.3 228.9 L725.3 228.2 L727.3 227.5 L729.3 226.9 L731.3 226.2 L733.3 225.5 L735.3 224.9 L737.3 224.2 L739.3 223.6 L741.3 222.9 L743.3 222.3 L745.3 221.6 L747.3 221.0 L749.3 220.4 L751.3 219.7 L753.3 219.1 L755.3 218.5 L757.3 217.9 L759.3 217.3 L761.3 216.6 L763.3 216.0 L765.3 215.4 L767.3 214.8 L769.3 214.2 L771.3 213.6 L773.3 213.0 L775.3 212.5 L777.3 211.9 L779.3 211.3 L781.3 210.7 L783.3 210.1 L785.3 209.5 L787.3 209.0 L789.3 208.4 L791.3 207.8 L793.3 207.3 L795.3 206.7 L797.3 206.2 L799.3 205.6 L801.3 205.1 L803.3 204.5 L805.3 204.0 L807.3 203.4 L809.3 202.9 L811.3 202.3 L813.3 201.8 L815.3 201.3 L817.3 200.8 L819.3 200.2 L821.3 199.7 L823.3 199.2 L825.3 198.7 L827.3 198.1 L829.3 197.6 L831.3 197.1 L833.3 196.6 L835.3 196.1 L837.3 195.6 L839.3 195.1 L841.3 194.6 L843.3 194.1 L845.3 193.6 L847.3 193.1 L849.3 192.6 L851.3 192.2 L853.3 191.7 L855.3 191.2 L857.3 190.7 L859.3 190.2 L861.3 189.8 L863.3 189.3 L865.3 188.8 L867.3 188.3 L869.3 187.9 L871.3 187.4 L873.3 186.9 L875.3 186.5 L877.3 186.0 L879.3 185.6 L881.3 185.1 L883.3 184.7 L885.3 184.2 L887.3 183.8 L889.3 183.3 L891.3 182.9 L893.3 182.4 L895.3 182.0 L897.3 181.6 L899.3 181.1 L901.3 180.7 L903.3 180.3 L905.3 179.8 L907.3 179.4 L909.3 179.0 L911.3 178.5 L913.3 178.1 L915.3 177.7 L917.3 177.3 L919.3 176.9 L921.3 176.4 L923.3 176.0 L925.3 175.6 L927.3 175.2 L929.3 174.8 L931.3 174.4 L933.3 174.0 L935.3 173.6 L937.3 173.2 L939.3 172.8 L941.3 172.4 L943.3 172.0 L945.3 171.6 L947.3 171.2 L949.3 170.8 L951.3 170.4 L953.3 170.0 L955.3 169.7 L957.3 169.3 L959.3 168.9 L961.3 168.5 L963.3 168.1 L965.3 167.8 L967.3 167.4 L969.3 167.0 L971.3 166.7 L973.3 166.3 L975.3 165.9 L977.3 165.5 L979.3 165.2 L981.3 164.8 L983.3 164.5 L985.3 164.1 L987.3 163.7 L989.3 163.4 L991.3 163.0 L993.3 162.7 L995.3 162.3 L997.3 162.0 L999.3 161.6 L1001.3 161.3 L1003.3 160.9 L1005.3 160.6 L1007.3 160.3 L1009.3 159.9 L1011.3 159.6 L1013.3 159.3 L1015.3 158.9 L1017.3 158.6 L1019.3 158.3 L1021.3 157.9 L1023.3 157.6 L1025.3 157.3 L1027.3 156.9 L1029.3 156.6 L1031.3 156.3 L1033.3 156.0 L1035.3 155.7 L1037.3 155.3 L1039.3 155.0 L1041.3 154.7 L1043.3 154.4 L1045.3 154.1 L1047.3 153.8 L1049.3 153.5 L1051.3 153.1 L1053.3 152.8 L1055.3 152.5 L1057.3 152.2 L1059.3 151.9 L1061.3 151.6 L1063.3 151.3 L1065.3 151.0 L1067.3 150.7 L1069.3 150.4 L1071.3 150.1 L1073.3 149.8 L1075.3 149.6 L1077.3 149.3 L1079.3 149.0 L1081.3 148.7 L1083.3 148.4 L1085.3 148.1 L1087.3 147.8 L1089.3 147.6 L1091.3 147.3 L1093.3 147.0 L1095.3 146.7 L1097.3 146.4 L1099.3 146.2 L1101.3 145.9 L1103.3 145.6 L1105.3 145.3 L1107.3 145.1 L1109.3 144.8 L1111.3 144.5 L1113.3 144.3 L1115.3 144.0 L1117.3 143.7 L1119.3 143.5 L1121.3 143.2 L1123.3 142.9 L1125.3 142.7 L1127.3 142.4 L1129.3 142.2 L1131.3 141.9 L1133.3 141.7 L1135.3 141.4 L1137.3 141.1 L1139.3 140.9 L1141.3 140.6 L1143.3 140.4 L1145.3 140.1 L1147.8 139.8"/>
<path class="c" stroke="#000000" stroke-dasharray="22.10 22.10" stroke-dashoffset="0.00" d="M1147.0 139.9 L1151.0 139.4 L1155.0 139.0 L1159.0 138.5 L1163.0 138.0 L1167.0 137.5 L1171.0 137.0 L1175.0 136.6 L1179.0 136.1 L1183.0 135.6 L1187.0 135.2 L1191.0 134.7 L1195.0 134.3 L1199.0 133.8 L1203.0 133.4 L1207.0 133.0 L1211.0 132.5 L1215.0 132.1 L1219.0 131.7 L1223.0 131.2 L1227.0 130.8 L1231.0 130.4 L1235.0 130.0 L1239.0 129.6 L1243.0 129.2 L1247.0 128.8 L1251.0 128.4 L1255.0 128.0 L1259.0 127.6 L1263.0 127.2 L1267.0 126.8 L1271.0 126.4 L1275.0 126.0 L1279.0 125.7 L1283.0 125.3 L1287.0 124.9 L1291.0 124.6 L1295.0 124.2 L1299.0 123.8 L1303.0 123.5 L1307.0 123.1 L1311.0 122.8 L1315.0 122.4 L1319.0 122.1 L1323.0 121.7 L1327.0 121.4 L1331.0 121.1 L1335.0 120.7 L1339.0 120.4 L1343.0 120.1 L1347.0 119.7 L1351.0 119.4 L1355.0 119.1 L1359.0 118.8 L1363.0 118.5 L1367.0 118.2 L1371.0 117.8 L1375.0 117.5 L1379.0 117.2 L1383.0 116.9 L1387.0 116.6 L1391.0 116.3 L1395.0 116.1 L1399.0 115.8 L1403.0 115.5 L1407.0 115.2 L1411.0 114.9 L1415.0 114.6 L1419.0 114.4 L1423.0 114.1 L1427.0 113.8 L1431.0 113.6 L1435.0 113.3 L1439.0 113.0 L1443.0 112.8 L1447.0 112.5 L1451.0 112.2 L1455.0 112.0 L1459.0 111.7 L1463.0 111.5 L1467.0 111.3 L1471.0 111.0 L1475.0 110.8 L1479.0 110.5 L1483.0 110.3 L1487.0 110.1 L1491.0 109.8 L1495.0 109.6 L1499.0 109.4 L1503.0 109.1 L1507.0 108.9 L1511.0 108.7 L1515.0 108.5 L1519.0 108.3 L1523.0 108.0 L1527.0 107.8 L1531.0 107.6 L1535.0 107.4 L1539.0 107.2 L1543.0 107.0 L1547.0 106.8 L1551.0 106.6 L1555.0 106.4 L1559.0 106.2 L1563.0 106.0 L1567.0 105.8 L1571.0 105.6 L1575.0 105.4 L1579.0 105.2 L1583.0 105.1 L1587.0 104.9 L1591.0 104.7 L1595.0 104.5 L1599.0 104.3 L1603.0 104.2 L1607.0 104.0 L1611.0 103.8 L1615.0 103.6 L1619.0 103.5 L1623.0 103.3 L1627.0 103.1 L1631.0 103.0 L1635.0 102.8 L1639.0 102.6 L1643.0 102.5 L1647.0 102.3 L1651.0 102.2 L1655.0 102.0 L1659.0 101.9 L1663.0 101.7 L1667.0 101.6 L1671.0 101.4 L1675.0 101.3 L1679.0 101.1 L1683.0 101.0 L1687.0 100.8 L1691.0 100.7 L1695.0 100.5 L1699.0 100.4 L1703.0 100.3 L1707.0 100.1 L1711.0 100.0 L1715.0 99.9 L1719.0 99.7 L1723.0 99.6 L1727.0 99.5 L1731.0 99.3 L1735.0 99.2 L1739.0 99.1 L1743.0 98.9 L1747.0 98.8 L1751.0 98.7 L1755.0 98.6 L1759.0 98.4 L1763.0 98.3 L1767.0 98.2 L1771.0 98.1 L1775.0 98.0 L1779.0 97.8 L1783.0 97.7 L1787.0 97.6 L1791.0 97.5 L1795.0 97.4 L1799.0 97.3 L1803.0 97.1 L1807.0 97.0 L1811.0 96.9 L1815.0 96.8 L1819.0 96.7 L1823.0 96.6 L1827.0 96.5 L1831.0 96.4 L1835.0 96.3 L1839.0 96.2 L1843.0 96.1 L1847.0 96.0 L1851.0 95.8 L1855.0 95.7 L1859.0 95.6 L1863.0 95.5 L1867.0 95.4 L1871.0 95.3 L1875.0 95.2 L1879.0 95.1 L1883.0 95.0 L1887.0 94.9 L1891.0 94.8 L1895.0 94.7 L1899.0 94.6 L1903.0 94.5 L1907.0 94.4 L1911.0 94.3 L1915.0 94.2 L1919.0 94.1 L1923.0 94.0 L1927.0 94.0 L1931.0 93.9 L1935.0 93.8 L1939.0 93.7 L1943.0 93.6 L1947.0 93.5 L1951.0 93.4 L1955.0 93.3 L1959.0 93.2 L1963.0 93.1 L1967.0 93.0 L1971.0 92.9 L1975.0 92.8 L1979.0 92.7 L1983.0 92.6 L1987.0 92.5 L1991.0 92.4 L1995.0 92.3 L1999.0 92.2 L2003.0 92.1 L2007.0 92.0 L2011.0 91.9 L2015.0 91.9 L2019.0 91.8 L2023.0 91.7 L2027.0 91.6 L2031.0 91.5 L2035.0 91.4 L2039.0 91.3 L2040.3 91.2"/>
</g>
<g id="curve-red">
<path class="c" stroke="#ff0000" stroke-dasharray="22.10 22.10" stroke-dashoffset="0.00" d="M249.5 895.8 L250.2 840.0 L251.0 752.0 L252.0 663.0 L252.8 575.0 L253.9 487.0 L254.6 455.7 L257.0 433.3 L258.7 417.5"/>
<path class="c" stroke="#ff0000" stroke-dasharray="22.10 22.10" stroke-dashoffset="37.30" d="M258.7 417.5 L259.4 415.4 L263.3 412.3 L271.8 403.8 L273.8 402.4 L275.8 400.9 L277.8 399.4 L279.8 398.0 L281.8 396.6 L283.8 395.1 L285.8 393.7 L287.8 392.3 L289.8 390.9 L291.8 389.5 L293.8 388.1 L295.8 386.7 L297.8 385.3 L299.8 383.9 L301.8 382.6 L303.8 381.2 L305.8 379.9 L307.8 378.5 L309.8 377.2 L311.8 375.9 L313.8 374.5 L315.8 373.2 L317.8 371.9 L319.8 370.6 L321.8 369.3 L323.8 368.0 L325.8 366.7 L327.8 365.5 L329.8 364.2 L331.8 362.9 L333.8 361.7 L335.8 360.4 L337.8 359.2 L339.8 357.9 L341.8 356.7 L343.8 355.5 L345.8 354.3 L347.8 353.0 L349.8 351.8 L351.8 350.6 L353.8 349.5 L355.8 348.3 L357.8 347.1 L359.8 345.9 L361.8 344.8 L363.8 343.6 L365.8 342.4 L367.8 341.3 L369.8 340.2 L371.8 339.0 L373.8 337.9 L375.8 336.8 L377.8 335.6 L379.8 334.5 L381.8 333.4 L383.8 332.3 L385.8 331.2 L387.8 330.1 L389.8 329.1 L391.8 328.0 L393.8 326.9 L395.8 325.9 L397.8 324.8 L399.8 323.7 L401.8 322.7 L403.8 321.7 L405.8 320.6 L407.8 319.6 L409.8 318.6 L411.8 317.6 L413.8 316.5 L415.8 315.5 L417.8 314.5 L419.8 313.5 L421.8 312.5 L423.8 311.6 L425.8 310.6 L427.8 309.6 L429.8 308.6 L431.8 307.7 L433.8 306.7 L435.8 305.7 L437.8 304.8 L439.8 303.9 L441.8 302.9 L443.8 302.0 L445.8 301.1 L447.8 300.1 L449.8 299.2 L451.8 298.3 L453.8 297.4 L455.8 296.5 L457.8 295.6 L459.8 294.7 L461.8 293.8 L463.8 292.9 L465.8 292.0 L467.8 291.2 L469.8 290.3 L471.8 289.4 L473.8 288.6 L475.8 287.7 L477.8 286.9 L479.8 286.0 L481.8 285.2 L483.8 284.3 L485.8 283.5 L487.8 282.7 L489.8 281.9 L491.8 281.0 L493.8 280.2 L495.8 279.4 L497.8 278.6 L499.8 277.8 L501.8 277.0 L503.8 276.2 L505.8 275.4 L507.8 274.6 L509.8 273.9 L511.8 273.1 L513.8 272.3 L515.8 271.5 L517.8 270.8 L519.8 270.0 L521.8 269.3 L523.8 268.5 L525.8 267.8 L527.8 267.0 L529.8 266.3 L531.8 265.5 L533.8 264.8 L535.8 264.1 L537.8 263.4 L539.8 262.6 L541.8 261.9 L543.8 261.2 L545.8 260.5 L547.8 259.8 L549.8 259.1 L551.8 258.4 L553.8 257.7 L555.8 257.0 L557.8 256.3 L559.8 255.6 L561.8 254.9 L563.8 254.3 L565.8 253.6 L567.8 252.9 L569.8 252.2 L571.8 251.6 L573.8 250.9 L575.8 250.3 L577.8 249.6 L579.8 249.0 L581.8 248.3 L583.8 247.7 L585.8 247.0 L587.8 246.4 L589.8 245.7 L591.8 245.1 L593.8 244.5 L595.8 243.8 L597.8 243.2 L599.8 242.6 L601.8 242.0 L603.8 241.4 L605.8 240.8 L607.8 240.1 L609.8 239.5 L611.8 238.9 L613.8 238.3 L615.8 237.7 L617.8 237.1 L619.8 236.6 L621.8 236.0 L623.8 235.4 L625.8 234.8 L627.8 234.2 L629.8 233.6 L631.8 233.1 L633.8 232.5 L635.8 231.9 L637.8 231.4 L639.8 230.8 L641.8 230.2 L643.8 229.7 L645.8 229.1 L647.8 228.6 L649.8 228.0 L651.8 227.5 L653.8 226.9 L655.8 226.4 L657.8 225.8 L659.8 225.3 L661.8 224.8 L663.8 224.2 L665.8 223.7 L667.8 223.2 L669.8 222.7 L671.8 222.1 L673.8 221.6 L675.8 221.1 L677.8 220.6 L679.8 220.1 L681.8 219.6 L683.8 219.1 L685.8 218.6 L687.8 218.1 L689.8 217.6 L691.8 217.1 L693.8 216.6 L695.8 216.1 L697.8 215.6 L699.8 215.1 L701.8 214.6 L703.8 214.1 L705.8 213.6 L707.8 213.2 L709.8 212.7 L711.8 212.2 L713.8 211.7 L715.8 211.3 L717.8 210.8 L719.8 210.3 L721.8 209.9 L723.8 209.4 L725.8 209.0 L727.8 208.5 L729.8 208.0 L731.8 207.6 L733.8 207.1 L735.8 206.7 L737.8 206.2 L739.8 205.8 L741.8 205.4 L743.8 204.9 L745.8 204.5 L747.8 204.0 L749.8 203.6 L751.8 203.2 L753.8 202.7 L755.8 202.3 L757.8 201.9 L759.8 201.5 L761.8 201.0 L763.8 200.6 L765.8 200.2 L767.8 199.8 L769.8 199.4 L771.8 199.0 L773.8 198.6 L775.8 198.1 L777.8 197.7 L779.8 197.3 L781.8 196.9 L783.8 196.5 L785.8 196.1 L787.8 195.7 L789.8 195.3 L791.8 194.9 L793.8 194.5 L795.8 194.1 L797.8 193.8 L799.8 193.4 L801.8 193.0 L803.8 192.6 L805.8 192.2 L807.8 191.8 L809.8 191.4 L811.8 191.1 L813.8 190.7 L815.8 190.3 L817.8 189.9 L819.8 189.6 L821.8 189.2 L823.8 188.8 L825.8 188.5 L827.8 188.1 L829.8 187.7 L831.8 187.4 L833.8 187.0 L835.8 186.6 L837.8 186.3 L839.8 185.9 L841.8 185.6 L843.8 185.2 L845.8 184.8 L847.8 184.5 L849.8 184.1 L851.8 183.8 L853.8 183.4 L855.8 183.1 L857.8 182.7 L859.8 182.4 L861.8 182.1 L863.8 181.7 L865.8 181.4 L867.8 181.0 L869.8 180.7 L871.8 180.3 L873.8 180.0 L875.8 179.7 L877.8 179.3 L879.8 179.0 L881.8 178.7 L883.8 178.3 L885.8 178.0 L887.8 177.7 L889.8 177.4 L891.8 177.0 L893.8 176.7 L895.8 176.4 L897.8 176.0 L899.8 175.7 L901.8 175.4 L903.8 175.1 L905.8 174.8 L907.8 174.4 L909.8 174.1 L911.8 173.8 L913.8 173.5 L915.8 173.2 L917.8 172.9 L919.8 172.5 L921.8 172.2 L923.8 171.9 L925.8 171.6 L927.8 171.3 L929.8 171.0 L931.8 170.7 L933.8 170.4 L935.8 170.1 L937.8 169.8 L939.8 169.5 L941.8 169.2 L943.8 168.9 L945.8 168.6 L947.8 168.3 L949.8 168.0 L951.8 167.7 L953.8 167.4 L955.8 167.1 L957.8 166.8 L959.8 166.5 L961.8 166.2 L963.8 165.9 L965.8 165.6 L967.8 165.3 L969.8 165.0 L971.8 164.7 L973.8 164.5 L975.8 164.2 L977.8 163.9 L979.8 163.6 L981.8 163.3 L983.8 163.0 L985.8 162.7 L987.8 162.5 L989.8 162.2 L991.8 161.9 L993.8 161.6 L995.8 161.4 L997.8 161.1 L999.8 160.8 L1001.8 160.5 L1003.8 160.3 L1005.8 160.0 L1007.8 159.7 L1009.8 159.4 L1011.8 159.2 L1013.8 158.9 L1015.8 158.6 L1017.8 158.4 L1019.8 158.1 L1021.8 157.8 L1023.8 157.6 L1025.8 157.3 L1027.8 157.1 L1029.8 156.8 L1031.8 156.5 L1033.8 156.3 L1035.8 156.0 L1037.8 155.8 L1039.8 155.5 L1041.8 155.2 L1043.8 155.0 L1045.8 154.7 L1047.8 154.5 L1049.8 154.2 L1051.8 154.0 L1053.8 153.7 L1055.8 153.5 L1057.8 153.2 L1059.8 153.0 L1061.8 152.7 L1063.8 152.5 L1065.8 152.2 L1067.8 152.0 L1069.8 151.8 L1071.8 151.5 L1073.8 151.3 L1075.8 151.0 L1077.8 150.8 L1079.8 150.5 L1081.8 150.3 L1083.8 150.1 L1085.8 149.8 L1087.8 149.6 L1089.8 149.4 L1091.8 149.1 L1093.8 148.9 L1095.8 148.7 L1097.8 148.4 L1099.8 148.2 L1101.8 148.0 L1103.8 147.7 L1105.8 147.5 L1107.8 147.3 L1109.8 147.1 L1111.8 146.8 L1113.8 146.6 L1115.8 146.4 L1117.8 146.2 L1119.8 145.9 L1121.8 145.7 L1123.8 145.5 L1125.8 145.3 L1127.8 145.0 L1129.8 144.8 L1131.8 144.6 L1133.8 144.4 L1135.8 144.2 L1137.8 144.0 L1139.8 143.7 L1141.8 143.5 L1143.8 143.3 L1145.8 143.1 L1147.8 142.9"/>
<path class="c" stroke="#ff0000" stroke-dasharray="22.10 22.10" stroke-dashoffset="0.00" d="M1147.0 143.0 L1151.0 142.6 L1155.0 142.1 L1159.0 141.7 L1163.0 141.3 L1167.0 140.9 L1171.0 140.5 L1175.0 140.1 L1179.0 139.7 L1183.0 139.3 L1187.0 138.9 L1191.0 138.5 L1195.0 138.1 L1199.0 137.7 L1203.0 137.3 L1207.0 137.0 L1211.0 136.6 L1215.0 136.2 L1219.0 135.8 L1223.0 135.5 L1227.0 135.1 L1231.0 134.7 L1235.0 134.4 L1239.0 134.0 L1243.0 133.7 L1247.0 133.3 L1251.0 133.0 L1255.0 132.6 L1259.0 132.3 L1263.0 131.9 L1267.0 131.6 L1271.0 131.3 L1275.0 130.9 L1279.0 130.6 L1283.0 130.3 L1287.0 129.9 L1291.0 129.6 L1295.0 129.3 L1299.0 129.0 L1303.0 128.7 L1307.0 128.3 L1311.0 128.0 L1315.0 127.7 L1319.0 127.4 L1323.0 127.1 L1327.0 126.8 L1331.0 126.5 L1335.0 126.2 L1339.0 125.9 L1343.0 125.6 L1347.0 125.3 L1351.0 125.1 L1355.0 124.8 L1359.0 124.5 L1363.0 124.2 L1367.0 123.9 L1371.0 123.7 L1375.0 123.4 L1379.0 123.1 L1383.0 122.8 L1387.0 122.6 L1391.0 122.3 L1395.0 122.1 L1399.0 121.8 L1403.0 121.5 L1407.0 121.3 L1411.0 121.0 L1415.0 120.8 L1419.0 120.5 L1423.0 120.3 L1427.0 120.0 L1431.0 119.8 L1435.0 119.5 L1439.0 119.3 L1443.0 119.1 L1447.0 118.8 L1451.0 118.6 L1455.0 118.4 L1459.0 118.1 L1463.0 117.9 L1467.0 117.7 L1471.0 117.4 L1475.0 117.2 L1479.0 117.0 L1483.0 116.8 L1487.0 116.6 L1491.0 116.3 L1495.0 116.1 L1499.0 115.9 L1503.0 115.7 L1507.0 115.5 L1511.0 115.3 L1515.0 115.1 L1519.0 114.9 L1523.0 114.7 L1527.0 114.5 L1531.0 114.3 L1535.0 114.1 L1539.0 113.9 L1543.0 113.7 L1547.0 113.5 L1551.0 113.3 L1555.0 113.1 L1559.0 112.9 L1563.0 112.7 L1567.0 112.5 L1571.0 112.4 L1575.0 112.2 L1579.0 112.0 L1583.0 111.8 L1587.0 111.6 L1591.0 111.5 L1595.0 111.3 L1599.0 111.1 L1603.0 110.9 L1607.0 110.8 L1611.0 110.6 L1615.0 110.4 L1619.0 110.2 L1623.0 110.1 L1627.0 109.9 L1631.0 109.7 L1635.0 109.6 L1639.0 109.4 L1643.0 109.3 L1647.0 109.1 L1651.0 108.9 L1655.0 108.8 L1659.0 108.6 L1663.0 108.5 L1667.0 108.3 L1671.0 108.2 L1675.0 108.0 L1679.0 107.9 L1683.0 107.7 L1687.0 107.5 L1691.0 107.4 L1695.0 107.3 L1699.0 107.1 L1703.0 107.0 L1707.0 106.8 L1711.0 106.7 L1715.0 106.5 L1719.0 106.4 L1723.0 106.2 L1727.0 106.1 L1731.0 106.0 L1735.0 105.8 L1739.0 105.7 L1743.0 105.5 L1747.0 105.4 L1751.0 105.3 L1755.0 105.1 L1759.0 105.0 L1763.0 104.9 L1767.0 104.7 L1771.0 104.6 L1775.0 104.5 L1779.0 104.3 L1783.0 104.2 L1787.0 104.1 L1791.0 103.9 L1795.0 103.8 L1799.0 103.7 L1803.0 103.5 L1807.0 103.4 L1811.0 103.3 L1815.0 103.1 L1819.0 103.0 L1823.0 102.9 L1827.0 102.8 L1831.0 102.6 L1835.0 102.5 L1839.0 102.4 L1843.0 102.3 L1847.0 102.1 L1851.0 102.0 L1855.0 101.9 L1859.0 101.8 L1863.0 101.6 L1867.0 101.5 L1871.0 101.4 L1875.0 101.3 L1879.0 101.1 L1883.0 101.0 L1887.0 100.9 L1891.0 100.8 L1895.0 100.7 L1899.0 100.5 L1903.0 100.4 L1907.0 100.3 L1911.0 100.2 L1915.0 100.0 L1919.0 99.9 L1923.0 99.8 L1927.0 99.7 L1931.0 99.6 L1935.0 99.4 L1939.0 99.3 L1943.0 99.2 L1947.0 99.1 L1951.0 98.9 L1955.0 98.8 L1959.0 98.7 L1963.0 98.6 L1967.0 98.4 L1971.0 98.3 L1975.0 98.2 L1979.0 98.1 L1983.0 98.0 L1987.0 97.8 L1991.0 97.7 L1995.0 97.6 L1999.0 97.5 L2003.0 97.3 L2007.0 97.2 L2011.0 97.1 L2015.0 97.0 L2019.0 96.8 L2023.0 96.7 L2027.0 96.6 L2031.0 96.4 L2035.0 96.3 L2039.0 96.2 L2040.3 96.1"/>
</g>
</g>
<g id="legend">
<rect x="1519.40" y="1090.05" width="502.50" height="282.90" fill="#fff" stroke="#000" stroke-width="2" stroke-linejoin="round"/>
<path class="c" stroke="#0052d9" stroke-dasharray="22.65 21.9" d="M1540.3 1122.25 H1648.1"/>
<text x="1659.59" y="1147.70" font-size="73" textLength="349.13" lengthAdjust="spacingAndGlyphs">Newtonian</text>
<path class="c" stroke="#0cee00" stroke-dasharray="22.65 21.9" d="M1540.3 1176.40 H1648.1"/>
<text x="1659.64" y="1201.80" font-size="73" textLength="90.65" lengthAdjust="spacingAndGlyphs">De</text>
<text x="1773.68" y="1208.30" font-size="69" textLength="58.97" lengthAdjust="spacingAndGlyphs">=</text>
<text x="1856.90" y="1201.80" font-size="72.5" textLength="132.98" lengthAdjust="spacingAndGlyphs">0.01</text>
<path class="c" stroke="#00cccc" stroke-dasharray="22.65 21.9" d="M1540.3 1231.30 H1648.1"/>
<text x="1659.64" y="1255.90" font-size="73" textLength="90.65" lengthAdjust="spacingAndGlyphs">De</text>
<text x="1773.68" y="1262.40" font-size="69" textLength="58.97" lengthAdjust="spacingAndGlyphs">=</text>
<text x="1856.90" y="1255.90" font-size="72.5" textLength="93.04" lengthAdjust="spacingAndGlyphs">0.1</text>
<path class="c" stroke="#000000" stroke-dasharray="22.65 21.9" d="M1540.3 1285.80 H1648.1"/>
<text x="1659.64" y="1310.50" font-size="73" textLength="90.65" lengthAdjust="spacingAndGlyphs">De</text>
<text x="1773.68" y="1317.00" font-size="69" textLength="58.97" lengthAdjust="spacingAndGlyphs">=</text>
<text x="1856.90" y="1310.50" font-size="72.5" textLength="94.38" lengthAdjust="spacingAndGlyphs">0.5</text>
<path class="c" stroke="#ff0000" stroke-dasharray="22.65 21.9" d="M1540.3 1340.80 H1648.1"/>
<text x="1659.64" y="1365.50" font-size="73" textLength="90.65" lengthAdjust="spacingAndGlyphs">De</text>
<text x="1773.68" y="1372.00" font-size="69" textLength="58.97" lengthAdjust="spacingAndGlyphs">=</text>
<text x="1857.51" y="1365.50" font-size="72.5" textLength="34.55" lengthAdjust="spacingAndGlyphs">1</text>
</g>
<g id="ticklabels">
<text x="226.00" y="1461.00" font-size="74" textLength="37.70" lengthAdjust="spacingAndGlyphs">0</text>
<text x="526.16" y="1461.00" font-size="74" textLength="34.83" lengthAdjust="spacingAndGlyphs">1</text>
<text x="824.76" y="1461.00" font-size="74" textLength="36.71" lengthAdjust="spacingAndGlyphs">2</text>
<text x="1122.24" y="1461.00" font-size="74" textLength="35.71" lengthAdjust="spacingAndGlyphs">3</text>
<text x="1422.11" y="1461.00" font-size="74" textLength="35.11" lengthAdjust="spacingAndGlyphs">4</text>
<text x="1718.07" y="1461.00" font-size="74" textLength="36.81" lengthAdjust="spacingAndGlyphs">5</text>
<text x="2017.46" y="1461.00" font-size="74" textLength="35.95" lengthAdjust="spacingAndGlyphs">6</text>
<text x="193.80" y="1415.80" font-size="74" textLength="37.03" lengthAdjust="spacingAndGlyphs">0</text>
<text x="105.20" y="1207.40" font-size="74" textLength="95.30" lengthAdjust="spacingAndGlyphs">0.2</text>
<text x="104.60" y="999.30" font-size="74" textLength="94.24" lengthAdjust="spacingAndGlyphs">0.4</text>
<text x="104.60" y="791.20" font-size="74" textLength="94.36" lengthAdjust="spacingAndGlyphs">0.6</text>
<text x="104.60" y="583.10" font-size="74" textLength="95.02" lengthAdjust="spacingAndGlyphs">0.8</text>
<text x="193.72" y="375.00" font-size="74" textLength="35.65" lengthAdjust="spacingAndGlyphs">1</text>
<text x="104.90" y="167.00" font-size="74" textLength="95.81" lengthAdjust="spacingAndGlyphs">1.2</text>
</g>
<g id="xlabel"><text x="781.20" y="1539.00" font-size="85.5" textLength="527.04" lengthAdjust="spacingAndGlyphs">dimensionless</text> <text x="1341.50" y="1539.00" font-size="85.5" textLength="170.61" lengthAdjust="spacingAndGlyphs">time</text></g>
<g id="ylabel" transform="translate(89.6 1262.3) rotate(-90)"><text x="-3.40" y="0.00" font-size="85.5" textLength="526.50" lengthAdjust="spacingAndGlyphs">dimensionless</text> <text x="553.63" y="0.00" font-size="85.5" textLength="276.82" lengthAdjust="spacingAndGlyphs">contact</text> <text x="863.70" y="0.00" font-size="85.5" textLength="239.68" lengthAdjust="spacingAndGlyphs">radius</text></g>
</svg></body></html>
